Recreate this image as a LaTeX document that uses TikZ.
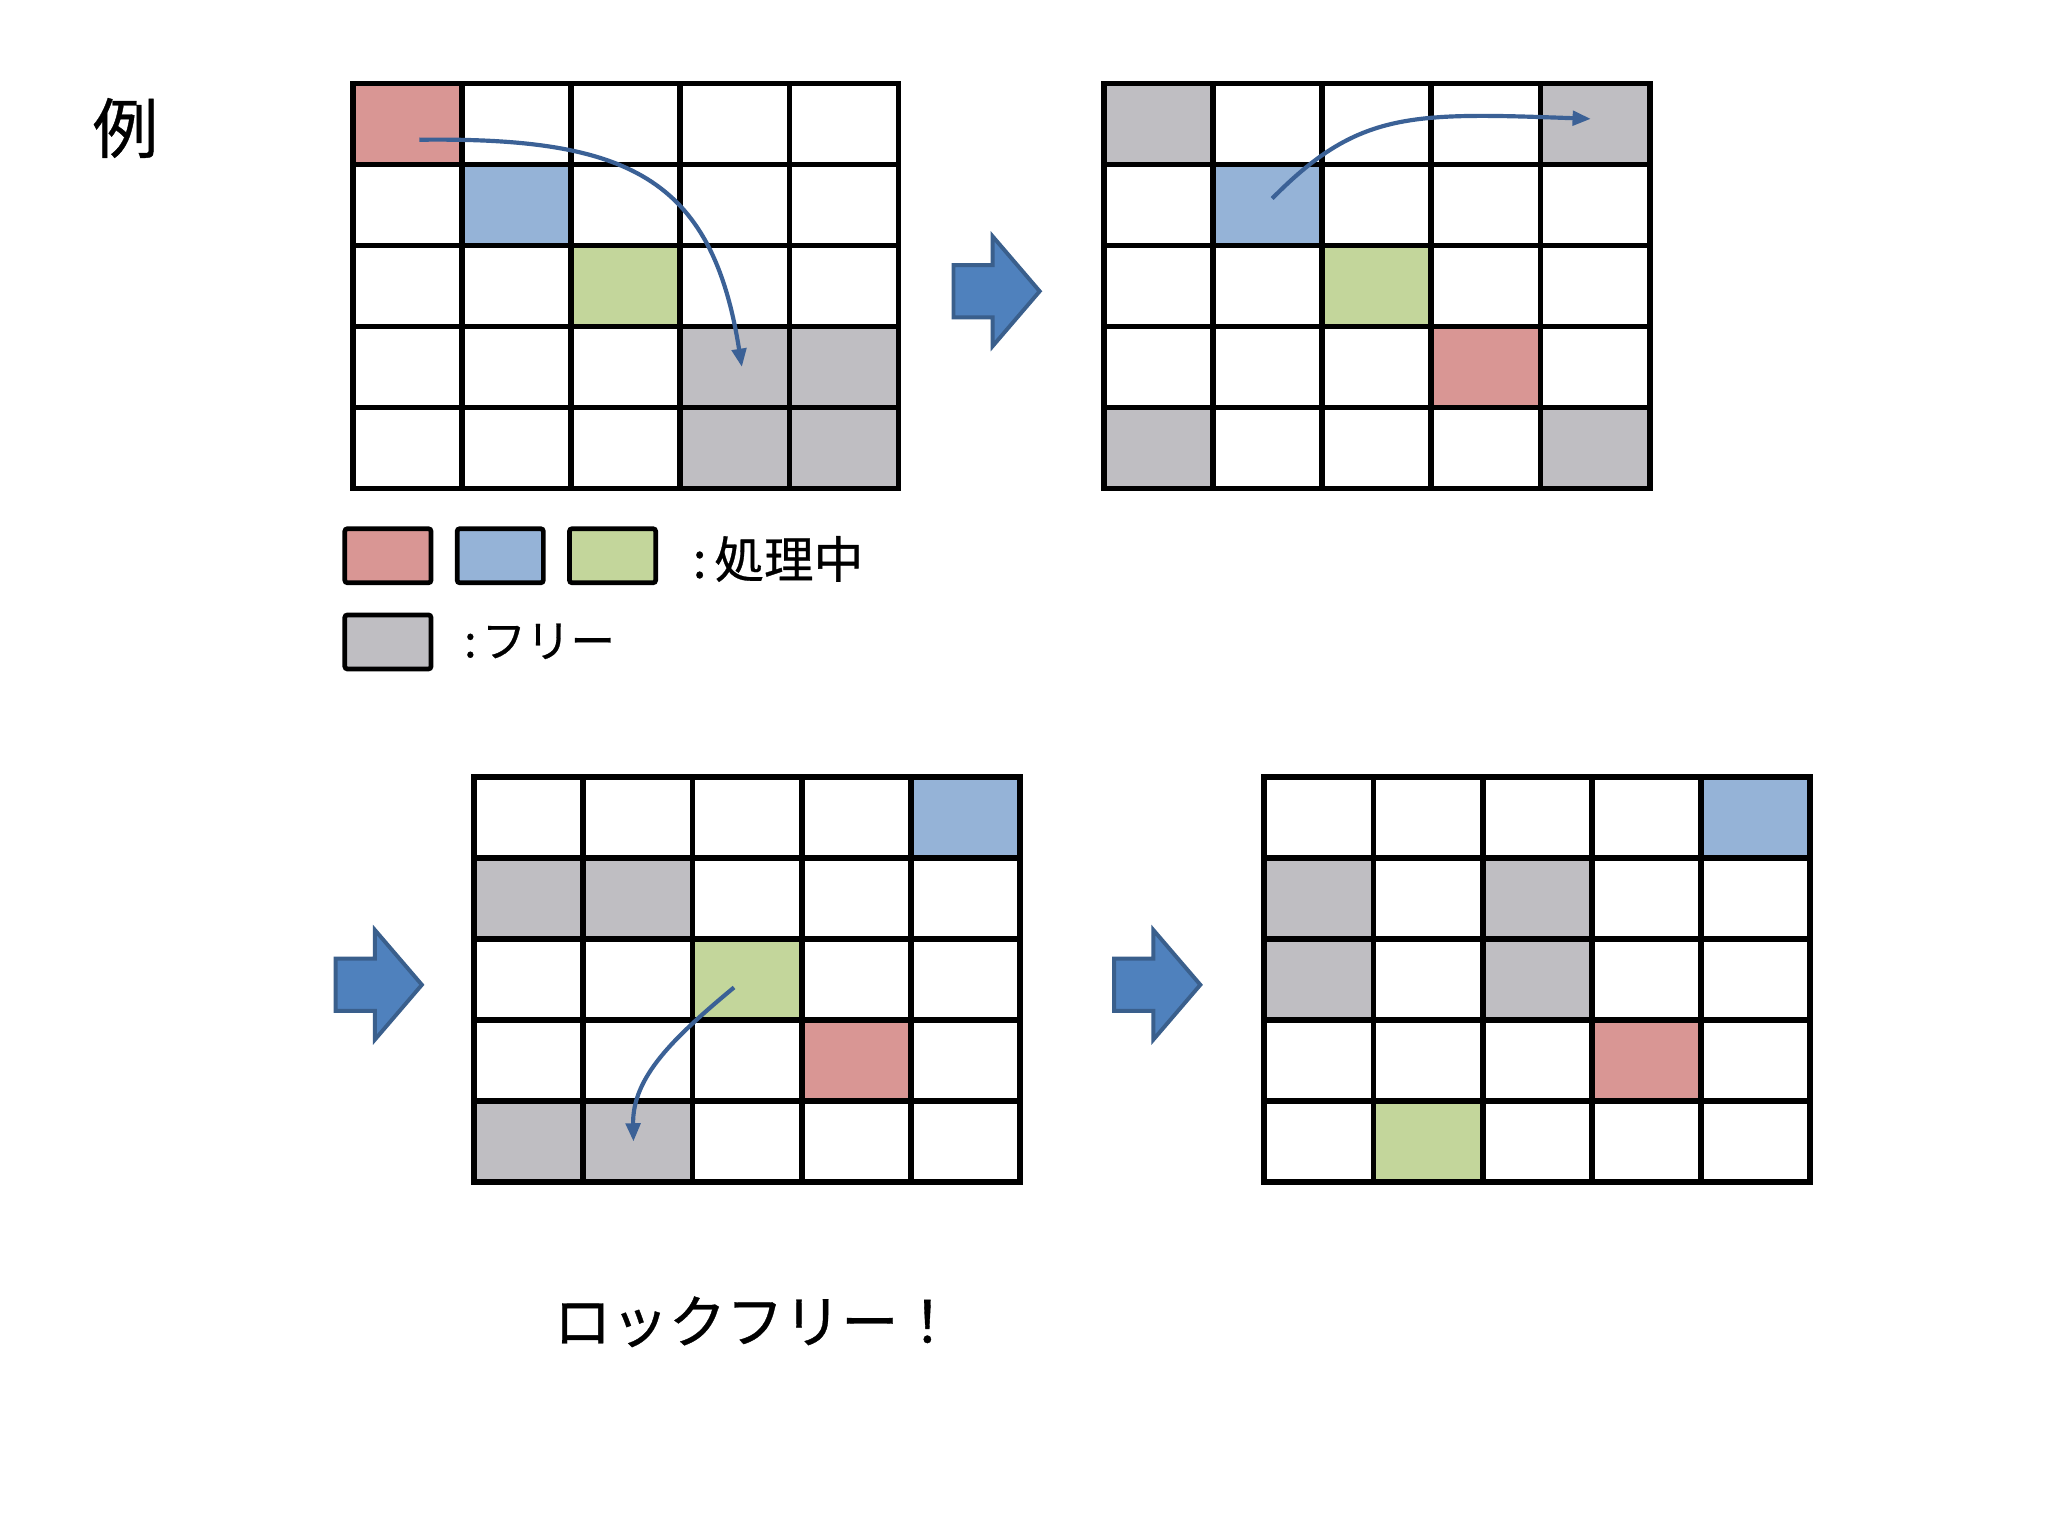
\documentclass[tikz,border=0pt]{standalone}
\usepackage{fontspec}
\setmainfont{Noto Sans CJK JP}[BoldFont={Noto Sans CJK JP},BoldFeatures={FakeBold=0.6}]
\usetikzlibrary{arrows.meta}
\definecolor{cred}{HTML}{D99694}
\definecolor{cblue}{HTML}{95B3D7}
\definecolor{cgreen}{HTML}{C3D69B}
\definecolor{cgrey}{HTML}{BFBEC2}
\definecolor{afill}{HTML}{4F81BD}
\definecolor{aedge}{HTML}{3A5F8C}
\definecolor{curve}{HTML}{3B6196}
\newcommand\cw{83.6}
\newcommand\ch{62}
\newcommand\mycell[3]{\fill[#3] ({#1*\cw},{#2*\ch}) rectangle ++(\cw,\ch);}
\newcommand\mygridlines{%
  \foreach \i in {0,...,5} {\draw[gridline] ({\i*\cw},0) -- ({\i*\cw},{5*\ch});}
  \foreach \j in {0,...,5} {\draw[gridline] (0,{\j*\ch}) -- ({5*\cw},{\j*\ch});}
}
\newcommand\blockarrow[2]{%
  \filldraw[blockarrow] (#1,#2+20) -- (#1,#2-20) -- (#1+30,#2-20) -- (#1+30,#2-42)
    -- (#1+66,#2) -- (#1+30,#2+42) -- (#1+30,#2+20) -- cycle;}
\tikzset{
  gridline/.style={line width=2.2pt, line cap=rect, black},
  blockarrow/.style={fill=afill, draw=aedge, line width=1.5pt, line join=miter},
  legbox/.style={draw=black, line width=1.8pt, rounded corners=1pt, minimum width=33pt, minimum height=20.7pt, inner sep=0pt},
  flow/.style={draw=curve, line width=1.6pt, -{Triangle[length=7pt,width=5.5pt]}},
  lbl/.style={inner sep=0pt, text=black},
}
\begin{document}
\begin{tikzpicture}[x=0.5pt,y=-0.5pt]
\useasboundingbox (0,0) rectangle (1568,1176);
\fill[white] (0,0) rectangle (1568,1176);

\node[lbl, font=\fontsize{25}{30}\selectfont\bfseries] (rei) at (96,98) {例};

% grid 1
\begin{scope}[shift={(270,64)}]
  \mycell{0}{0}{cred} \mycell{1}{1}{cblue} \mycell{2}{2}{cgreen}
  \mycell{3}{3}{cgrey} \mycell{4}{3}{cgrey} \mycell{3}{4}{cgrey} \mycell{4}{4}{cgrey}
  \mygridlines
\end{scope}
% grid 2
\begin{scope}[shift={(845,64)}]
  \mycell{0}{0}{cgrey} \mycell{4}{0}{cgrey} \mycell{0}{4}{cgrey} \mycell{4}{4}{cgrey}
  \mycell{1}{1}{cblue} \mycell{2}{2}{cgreen} \mycell{3}{3}{cred}
  \mygridlines
\end{scope}
% grid 3
\begin{scope}[shift={(363,595)}]
  \mycell{4}{0}{cblue} \mycell{0}{1}{cgrey} \mycell{1}{1}{cgrey}
  \mycell{0}{4}{cgrey} \mycell{1}{4}{cgrey}
  \mycell{2}{2}{cgreen} \mycell{3}{3}{cred}
  \mygridlines
\end{scope}
% grid 4
\begin{scope}[shift={(968,595)}]
  \mycell{4}{0}{cblue} \mycell{0}{1}{cgrey} \mycell{2}{1}{cgrey}
  \mycell{0}{2}{cgrey} \mycell{2}{2}{cgrey}
  \mycell{3}{3}{cred} \mycell{1}{4}{cgreen}
  \mygridlines
\end{scope}

% block arrows
\blockarrow{730}{223}
\blockarrow{257}{754}
\blockarrow{853}{754}

% curved arrows
\coordinate (s1) at (321,107);
\coordinate (e1) at (568,281);
\draw[flow] (s1) .. controls (480,105) and (545,135) .. (e1);
\coordinate (s2) at (974,152);
\coordinate (e2) at (1218,91);
\draw[flow] (s2) .. controls (1040,85) and (1080,86) .. (e2);
\coordinate (s3) at (562,756);
\coordinate (e3) at (485,874);
\draw[flow] (s3) .. controls (515,795) and (484,825) .. (e3);

% legend
\node[legbox, fill=cred] (lg1) at (297,425.5) {};
\node[legbox, fill=cblue] (lg2) at (383,425.5) {};
\node[legbox, fill=cgreen] (lg3) at (469,425.5) {};
\node[legbox, fill=cgrey] (lg4) at (297,491.5) {};
\node[lbl, anchor=west, font=\fontsize{19}{23}\selectfont\bfseries] (t1) at (530,428) {:\hspace{3pt}処理中};
\node[lbl, anchor=west, font=\fontsize{17}{21}\selectfont\bfseries] (t2) at (355,491) {:\hspace{2pt}フリー};

\node[lbl, font=\fontsize{22}{26}\selectfont\bfseries] (lf) at (578,1012) {ロックフリー！};
\end{tikzpicture}
\end{document}
